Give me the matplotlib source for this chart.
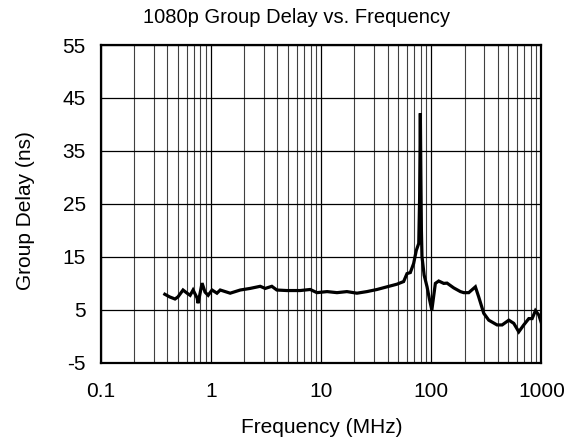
import numpy as np
import matplotlib.pyplot as plt
from matplotlib.ticker import LogLocator, NullFormatter, FixedLocator

plt.rcParams['font.family'] = ['Liberation Sans', 'DejaVu Sans']
plt.rcParams['axes.unicode_minus'] = False

# Group delay trace (MHz, ns)
freq_mhz = [0.38, 0.42, 0.47, 0.50, 0.556, 0.605, 0.645, 0.686, 0.746, 0.762,
            0.828, 0.881, 0.94, 1.02, 1.13, 1.21, 1.49, 1.84, 2.26, 2.79,
            3.1, 3.56, 3.95, 4.87, 6.44, 7.94, 9.14, 11.3, 13.9, 17.1,
            21.1, 26.0, 32.1, 39.5, 48.7, 56.0, 60.1, 64.4, 69.0, 73.0,
            76.8, 78.2, 79.4, 80.3, 81.2, 82.2, 86.0, 91.4, 96.0, 101.0,
            108.7, 116.6, 129.5, 138.8, 159.6, 183.5, 196.9, 218.5, 251.0, 269.0,
            299.0, 332.0, 395.0, 439.0, 505.0, 560.0, 622.0, 690.0, 767.0, 822.0,
            881.0, 944.0, 1000.0]
delay_ns = [7.9, 7.4, 7.0, 7.4, 8.7, 8.1, 7.7, 8.7, 7.2, 6.2,
            10.0, 8.3, 7.7, 8.7, 8.1, 8.7, 8.1, 8.7, 9.0, 9.4,
            9.0, 9.4, 8.7, 8.6, 8.6, 8.8, 8.2, 8.4, 8.2, 8.4,
            8.1, 8.4, 8.8, 9.3, 9.8, 10.3, 11.8, 12.0, 13.7, 16.2,
            17.5, 26.0, 42.1, 30.0, 20.0, 15.0, 11.5, 9.3, 7.0, 4.9,
            9.95, 10.4, 9.95, 10.0, 9.1, 8.4, 8.2, 8.2, 9.3, 7.4,
            4.3, 3.0, 2.1, 2.1, 3.0, 2.4, 0.8, 2.1, 3.3, 3.3,
            4.8, 4.0, 2.4]

y_ticks = [-5, 5, 15, 25, 35, 45, 55]
x_ticks = [0.1, 1, 10, 100, 1000]
x_labels = ['0.1', '1', '10', '100', '1000']

fig = plt.figure(figsize=(5.76, 4.43), dpi=100)
ax = fig.add_axes([0.1753, 0.1817, 0.7648, 0.7167])

ax.plot(freq_mhz, delay_ns, color='black', lw=2.3, solid_joinstyle='miter')

ax.set_xscale('log')
ax.set_xlim(0.1, 1000)
ax.set_ylim(-5, 55)
ax.xaxis.set_major_locator(FixedLocator(x_ticks))
ax.set_xticklabels(x_labels)
ax.xaxis.set_minor_locator(LogLocator(base=10, subs=np.arange(2, 10)))
ax.xaxis.set_minor_formatter(NullFormatter())
ax.set_yticks(y_ticks)

ax.grid(True, which='major', color='black', lw=0.9)
ax.grid(True, which='minor', axis='x', color='0.25', lw=0.8)
ax.tick_params(which='both', length=0, labelsize=15)
ax.tick_params(axis='x', pad=14)
ax.tick_params(axis='y', pad=11)
for s in ax.spines.values():
    s.set_linewidth(1.6)

fig.text(0.559, 0.0219, 'Frequency (MHz)', fontsize=15, ha='center', va='baseline')
fig.text(0.045, 0.524, 'Group Delay (ns)', fontsize=15, ha='center', va='center',
         rotation=90)
fig.text(0.515, 0.949, '1080p Group Delay vs. Frequency', fontsize=14.5,
         ha='center', va='baseline')

fig.savefig('out.png', dpi=100)
